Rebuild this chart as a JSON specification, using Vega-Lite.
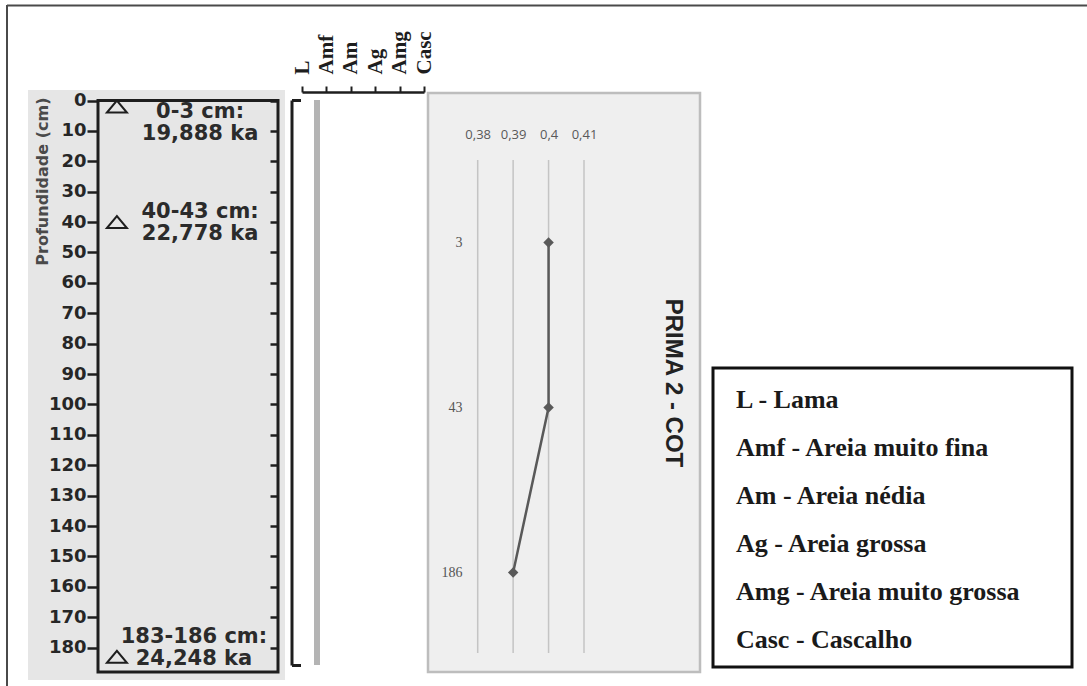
{
 "$schema": "https://vega.github.io/schema/vega-lite/v6.json",
 "width": 1080,
 "height": 681,
 "autosize": {"type": "none"},
 "padding": {"left": 7, "top": 5, "right": 0, "bottom": 0},
 "background": "#ffffff",
 "config": {"view": {"stroke": null}, "font": "DejaVu Sans", "axis": {"grid": false, "zindex": 2, "labelOverlap": false, "labelFlush": false, "labelBound": false}},
 "resolve": {"scale": {"x": "independent", "y": "independent"}, "axis": {"x": "independent", "y": "independent"}},
 "datasets": {
  "figura": [{"elemento": "figura"}],
  "datacoes": [
   {"intervalo": "0-3 cm", "profundidade": 2, "rotulo": "0-3 cm:\n19,888 ka"},
   {"intervalo": "40-43 cm", "profundidade": 40, "rotulo": "40-43 cm:\n22,778 ka"},
   {"intervalo": "183-186 cm", "profundidade": 183, "rotulo": "183-186 cm:\n24,248 ka"}
  ],
  "granulometria": [{"classe": "L", "topo": 0, "base": 186}],
  "cot": [
   {"amostra": "3", "prof": 3, "cot": 0.40},
   {"amostra": "43", "prof": 43, "cot": 0.40},
   {"amostra": "186", "prof": 186, "cot": 0.39}
  ],
  "grade_cot": [{"cot": 0.38}, {"cot": 0.39}, {"cot": 0.40}, {"cot": 0.41}],
  "legenda": [
   {"rotulo": "L - Lama"},
   {"rotulo": "Amf - Areia muito fina"},
   {"rotulo": "Am - Areia nédia"},
   {"rotulo": "Ag - Areia grossa"},
   {"rotulo": "Amg - Areia muito grossa"},
   {"rotulo": "Casc - Cascalho"}
  ]
 },
 "layer": [
  {
   "data": {"name": "figura"},
   "mark": {"type": "rule", "color": "#4a4a4a", "strokeWidth": 2},
   "encoding": {
    "x": {"datum": 0, "type": "quantitative", "scale": {"domain": [0, 1], "range": [0, 1080], "nice": false, "zero": false}, "axis": null},
    "x2": {"datum": 1},
    "y": {"datum": 0, "type": "quantitative", "scale": {"domain": [0, 1], "range": [0.5, 681], "nice": false, "zero": false}, "axis": null}
   }
  },
  {
   "data": {"name": "figura"},
   "mark": {"type": "rule", "color": "#4a4a4a", "strokeWidth": 2},
   "encoding": {
    "x": {"datum": 0, "type": "quantitative", "scale": {"domain": [0, 1], "range": [0, 1080], "nice": false, "zero": false}, "axis": null},
    "y": {"datum": 0, "type": "quantitative", "scale": {"domain": [0, 1], "range": [0, 681], "nice": false, "zero": false}, "axis": null},
    "y2": {"datum": 1}
   }
  },
  {
   "data": {"name": "figura"},
   "mark": {"type": "rect", "fill": "#e6e6e6"},
   "encoding": {
    "x": {"datum": 0, "type": "quantitative", "scale": {"domain": [0, 1], "range": [21, 278], "nice": false, "zero": false}, "axis": null},
    "x2": {"datum": 1},
    "y": {"datum": 0, "type": "quantitative", "scale": {"domain": [0, 1], "range": [85, 675], "nice": false, "zero": false}, "axis": null},
    "y2": {"datum": 1}
   }
  },
  {
   "data": {"name": "figura"},
   "mark": {"type": "rect", "filled": false, "stroke": "#1e1e1e", "strokeWidth": 3},
   "encoding": {
    "x": {"datum": 0, "type": "quantitative", "scale": {"domain": [0, 1], "range": [91, 271], "nice": false, "zero": false}, "axis": null},
    "x2": {"datum": 1},
    "y": {"datum": 0, "type": "quantitative", "scale": {"domain": [0, 188], "range": [95.5, 667], "nice": false, "zero": false},
     "axis": {"orient": "left", "offset": -91, "zindex": 2, "values": [0, 10, 20, 30, 40, 50, 60, 70, 80, 90, 100, 110, 120, 130, 140, 150, 160, 170, 180],
      "domain": false, "ticks": true, "tickSize": 11, "tickWidth": 2.5, "tickColor": "#1e1e1e",
      "labelFont": "DejaVu Sans", "labelFontWeight": "bold", "labelFontSize": 18, "labelColor": "#262626", "labelPadding": 1,
      "title": "Profundidade (cm)", "titleFont": "DejaVu Sans", "titleFontWeight": "bold", "titleFontSize": 16, "titleColor": "#4a4a4a",
      "titleAngle": -90, "titleX": -56, "titleY": 92, "titleAlign": "right", "titleBaseline": "middle"}},
    "y2": {"datum": 188}
   }
  },
  {
   "data": {"name": "datacoes"},
   "mark": {"type": "point", "shape": "M-1,0.6L1,0.6L0,-0.6Z", "size": 400, "filled": false, "stroke": "#1e1e1e", "strokeWidth": 2, "opacity": 1},
   "encoding": {
    "x": {"datum": 0.105, "type": "quantitative", "scale": {"domain": [0, 1], "range": [91, 271], "nice": false, "zero": false}, "axis": null},
    "y": {"field": "profundidade", "type": "quantitative", "scale": {"domain": [0, 188], "range": [95.5, 667], "nice": false, "zero": false},
     "axis": {"orient": "right", "offset": -809, "zindex": 2, "values": [0, 10, 20, 30, 40, 50, 60, 70, 80, 90, 100, 110, 120, 130, 140, 150, 160, 170, 180],
      "domain": false, "labels": false, "tickSize": -8, "tickWidth": 2.5, "tickColor": "#1e1e1e", "title": null}}
   }
  },
  {
   "data": {"name": "datacoes"},
   "transform": [{"filter": "datum.intervalo == '0-3 cm'"}],
   "mark": {"type": "text", "font": "DejaVu Sans", "fontWeight": "bold", "fontSize": 21, "color": "#2b2b2b", "lineBreak": "\n", "lineHeight": 22, "align": "center", "baseline": "middle", "dy": 5},
   "encoding": {
    "x": {"datum": 0.567, "type": "quantitative", "scale": {"domain": [0, 1], "range": [91, 271], "nice": false, "zero": false}, "axis": null},
    "y": {"field": "profundidade", "type": "quantitative", "scale": {"domain": [0, 188], "range": [95.5, 667], "nice": false, "zero": false}, "axis": null},
    "text": {"field": "rotulo"}
   }
  },
  {
   "data": {"name": "datacoes"},
   "transform": [{"filter": "datum.intervalo == '40-43 cm'"}],
   "mark": {"type": "text", "font": "DejaVu Sans", "fontWeight": "bold", "fontSize": 21, "color": "#2b2b2b", "lineBreak": "\n", "lineHeight": 22, "align": "center", "baseline": "middle", "dy": -10},
   "encoding": {
    "x": {"datum": 0.567, "type": "quantitative", "scale": {"domain": [0, 1], "range": [91, 271], "nice": false, "zero": false}, "axis": null},
    "y": {"field": "profundidade", "type": "quantitative", "scale": {"domain": [0, 188], "range": [95.5, 667], "nice": false, "zero": false}, "axis": null},
    "text": {"field": "rotulo"}
   }
  },
  {
   "data": {"name": "datacoes"},
   "transform": [{"filter": "datum.intervalo == '183-186 cm'"}],
   "mark": {"type": "text", "font": "DejaVu Sans", "fontWeight": "bold", "fontSize": 21, "color": "#2b2b2b", "lineBreak": "\n", "lineHeight": 22, "align": "center", "baseline": "middle", "dy": -20},
   "encoding": {
    "x": {"datum": 0.533, "type": "quantitative", "scale": {"domain": [0, 1], "range": [91, 271], "nice": false, "zero": false}, "axis": null},
    "y": {"field": "profundidade", "type": "quantitative", "scale": {"domain": [0, 188], "range": [95.5, 667], "nice": false, "zero": false}, "axis": null},
    "text": {"field": "rotulo"}
   }
  },
  {
   "data": {"name": "granulometria"},
   "mark": {"type": "rule", "color": "#b4b4b4", "strokeWidth": 6, "strokeCap": "butt", "xOffset": 15},
   "encoding": {
    "x": {"field": "classe", "type": "nominal", "scale": {"type": "point", "domain": ["L", "Amf", "Am", "Ag", "Amg", "Casc"], "range": [295, 417], "padding": 0},
     "axis": {"orient": "top", "offset": -87, "zindex": 2, "domain": true, "domainColor": "#1e1e1e", "domainWidth": 2.5, "ticks": true, "tickSize": 6, "tickWidth": 2, "tickColor": "#1e1e1e",
      "labelAngle": -90, "labelAlign": "left", "labelBaseline": "middle", "labelFont": "Liberation Serif", "labelFontWeight": "bold", "labelFontSize": 21, "labelColor": "#1e1e1e", "labelPadding": 12, "title": null}},
    "y": {"field": "topo", "type": "quantitative", "scale": {"domain": [0, 186], "range": [95, 660], "nice": false, "zero": false},
     "axis": {"orient": "left", "offset": -284.5, "zindex": 2, "values": [0, 186], "domain": true, "domainColor": "#1e1e1e", "domainWidth": 3, "tickSize": -9, "tickWidth": 3, "tickColor": "#1e1e1e", "labels": false, "title": null}},
    "y2": {"field": "base"}
   }
  },
  {
   "data": {"name": "figura"},
   "mark": {"type": "rect", "fill": "#efefef", "stroke": "#bdbdbd", "strokeWidth": 2.5},
   "encoding": {
    "x": {"datum": 0, "type": "quantitative", "scale": {"domain": [0, 1], "range": [421, 693], "nice": false, "zero": false}, "axis": null},
    "x2": {"datum": 1},
    "y": {"datum": 0, "type": "quantitative", "scale": {"domain": [0, 1], "range": [88, 667], "nice": false, "zero": false},
     "axis": {"orient": "right", "offset": -427, "zindex": 2, "domain": false, "ticks": false, "labels": false, "title": "PRIMA 2 - COT",
      "titleFont": "Liberation Sans", "titleFontSize": 24, "titleFontWeight": "bold", "titleColor": "#222222", "titleAngle": 90, "titlePadding": 0}},
    "y2": {"datum": 1}
   }
  },
  {
   "data": {"name": "grade_cot"},
   "mark": {"type": "rule", "color": "#c4c4c4", "strokeWidth": 1.5},
   "encoding": {
    "x": {"field": "cot", "type": "quantitative", "scale": {"domain": [0.38, 0.41], "range": [470.7, 577], "nice": false, "zero": false},
     "axis": {"orient": "top", "offset": -136, "zindex": 2, "values": [0.38, 0.39, 0.4, 0.41], "domain": false, "ticks": false, "tickSize": 0, "labelPadding": 0,
      "labelExpr": "replace(format(datum.value, '.2~f'), '.', ',')", "labelFont": "Open Sans", "labelFontSize": 13, "labelColor": "#595959", "title": null}},
    "y": {"datum": 0, "type": "quantitative", "scale": {"domain": [0, 1], "range": [155, 648], "nice": false, "zero": false}, "axis": null},
    "y2": {"datum": 1}
   }
  },
  {
   "data": {"name": "cot"},
   "mark": {"type": "line", "color": "#595959", "strokeWidth": 2.5, "point": {"filled": true, "shape": "diamond", "size": 110, "color": "#595959"}},
   "encoding": {
    "x": {"field": "cot", "type": "quantitative", "scale": {"domain": [0.38, 0.41], "range": [470.7, 577], "nice": false, "zero": false}, "axis": null},
    "y": {"field": "amostra", "type": "ordinal", "scale": {"type": "point", "domain": ["3", "43", "186"], "range": [155, 650], "padding": 0.5},
     "axis": {"orient": "left", "offset": -459, "zindex": 2, "domain": false, "ticks": false, "tickSize": 0, "labelPadding": 4, "labelFont": "Liberation Serif", "labelFontSize": 14, "labelColor": "#555555", "title": null}},
    "order": {"field": "prof", "type": "quantitative"}
   }
  },
  {
   "data": {"name": "figura"},
   "mark": {"type": "rect", "fill": "#ffffff", "stroke": "#111111", "strokeWidth": 3},
   "encoding": {
    "x": {"datum": 0, "type": "quantitative", "scale": {"domain": [0, 1], "range": [706, 1065], "nice": false, "zero": false}, "axis": null},
    "x2": {"datum": 1},
    "y": {"datum": 0, "type": "quantitative", "scale": {"domain": [0, 1], "range": [363, 662], "nice": false, "zero": false}, "axis": null},
    "y2": {"datum": 1}
   }
  },
  {
   "data": {"name": "legenda"},
   "mark": {"type": "text", "font": "Liberation Serif", "fontWeight": "bold", "fontSize": 26, "color": "#1a1a1a", "align": "left", "baseline": "alphabetic"},
   "encoding": {
    "x": {"datum": 0.064, "type": "quantitative", "scale": {"domain": [0, 1], "range": [706, 1065], "nice": false, "zero": false}, "axis": null},
    "y": {"field": "rotulo", "type": "nominal", "scale": {"type": "point", "domain": ["L - Lama", "Amf - Areia muito fina", "Am - Areia nédia", "Ag - Areia grossa", "Amg - Areia muito grossa", "Casc - Cascalho"], "range": [403, 643], "padding": 0}, "axis": null},
    "text": {"field": "rotulo"}
   }
  }
 ]
}
